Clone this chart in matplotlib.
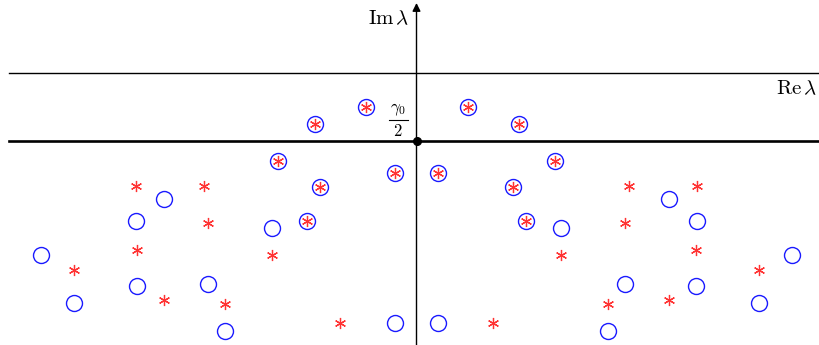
import matplotlib
matplotlib.use("Agg")
import matplotlib.pyplot as plt

plt.rcParams['mathtext.fontset'] = 'cm'

# Eigenvalues: points that are both circle and asterisk
both_re = [-0.75, -1.50, -2.03, -0.32, -1.42, -1.61,
           0.75, 1.50, 2.03, 0.32, 1.42, 1.61]
both_im = [-0.50, -0.75, -1.30, -1.47, -1.68, -2.17,
           -0.50, -0.75, -1.30, -1.47, -1.68, -2.17]

# Asterisks only
star_re = [-4.12, -3.12, -3.06, -4.11, -2.12, -5.04, -3.71, -2.81, -1.12,
           4.12, 3.12, 3.06, 4.11, 2.12, 5.04, 3.71, 2.81, 1.12]
star_im = [-1.66, -1.66, -2.20, -2.61, -2.67, -2.89, -3.34, -3.40, -3.68,
           -1.66, -1.66, -2.20, -2.61, -2.67, -2.89, -3.34, -3.40, -3.68]

# Circles only
circ_re = [-3.71, -4.12, -2.12, -5.52, -4.11, -3.06, -5.04, -2.82, -0.31,
           3.71, 4.12, 2.12, 5.52, 4.11, 3.06, 5.04, 2.82, 0.31]
circ_im = [-1.85, -2.18, -2.28, -2.68, -3.13, -3.11, -3.38, -3.80, -3.67,
           -1.85, -2.18, -2.28, -2.68, -3.13, -3.11, -3.38, -3.80, -3.67]

gamma_half = -1.0

fig = plt.figure(figsize=(8.19, 3.45), dpi=100)
ax = fig.add_axes([0, 0, 1, 1])
ax.set_xlim(-6.125, 5.919)
ax.set_ylim(-4.0, 1.074)
ax.axis('off')

blue = '#1a1aff'
red = '#ff3333'
star_marker = (6, 2, 0)

# axes lines
ax.plot([-6.0, 5.9], [0, 0], color='black', lw=1.0, zorder=1)
ax.plot([-6.0, 5.95], [gamma_half, gamma_half], color='black', lw=1.9, zorder=1)
ax.annotate('', xy=(5.93, 0), xytext=(5.6, 0),
            arrowprops=dict(arrowstyle='-|>', color='black', lw=1.0,
                            mutation_scale=10), zorder=2)
ax.annotate('', xy=(0, 1.03), xytext=(0, -4.0),
            arrowprops=dict(arrowstyle='-|>', color='black', lw=1.0,
                            mutation_scale=12, shrinkA=0, shrinkB=0), zorder=2)
ax.plot([0], [gamma_half], 'o', color='black', markersize=5.5, zorder=5)

# points
ax.plot(circ_re, circ_im, linestyle='none', marker='o', markersize=11.5,
        markerfacecolor='none', markeredgecolor=blue, markeredgewidth=1.0, zorder=3)
ax.plot(both_re, both_im, linestyle='none', marker='o', markersize=11.5,
        markerfacecolor='none', markeredgecolor=blue, markeredgewidth=1.0, zorder=3)
ax.plot(star_re, star_im, linestyle='none', marker=star_marker, markersize=8,
        color=red, markeredgewidth=0.9, zorder=4)
ax.plot(both_re, both_im, linestyle='none', marker=star_marker, markersize=8,
        color=red, markeredgewidth=0.9, zorder=4)

# labels
ax.text(-0.10, 0.80, r'$\mathrm{Im}\,\lambda$', ha='right', va='center', fontsize=15)
ax.text(5.89, -0.22, r'$\mathrm{Re}\,\lambda$', ha='right', va='center', fontsize=15)
# gamma_0 / 2 label drawn as a stacked fraction
ax.text(-0.27, -0.66, r'$\gamma_0$', ha='center', va='bottom', fontsize=12)
ax.plot([-0.40, -0.13], [-0.69, -0.69], color='black', lw=0.8)
ax.text(-0.27, -0.72, r'$2$', ha='center', va='top', fontsize=12)

fig.savefig('out.png', dpi=100)
